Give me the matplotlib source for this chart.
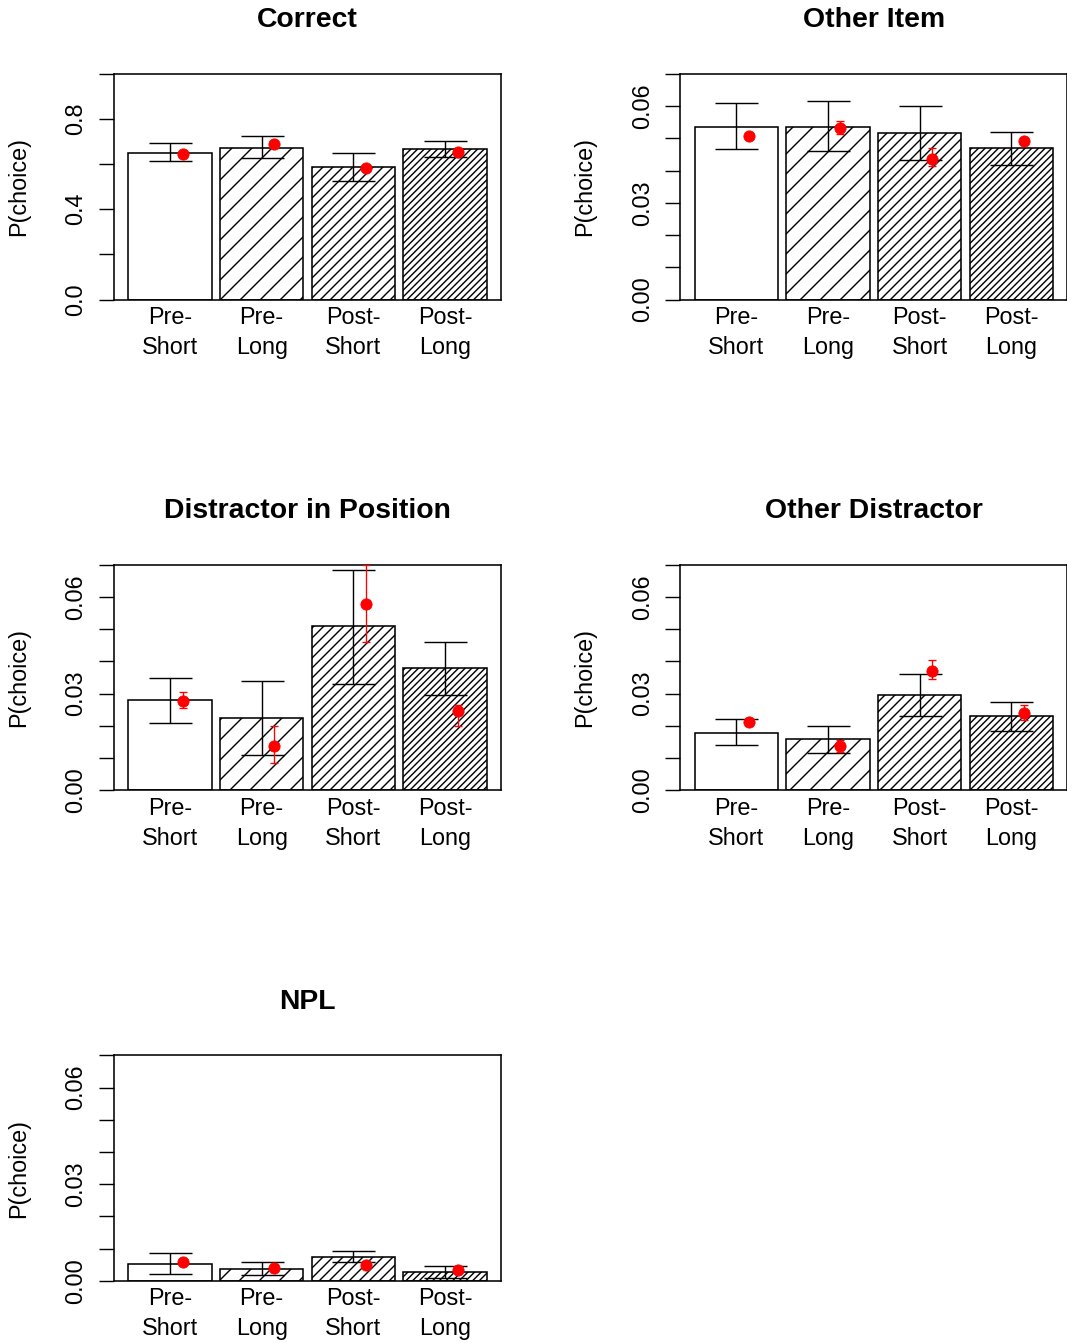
import numpy as np
import matplotlib
matplotlib.use('Agg')
from matplotlib import pyplot as plt

# figure is drawn at 60 dpi so the hatch densities come out like R's density lines
DPI = 60
W, H = 1067, 1343
plt.rcParams['font.family'] = ['Liberation Sans', 'DejaVu Sans']
plt.rcParams['hatch.linewidth'] = 1.7

conditions = ['Pre-\nShort', 'Pre-\nLong', 'Post-\nShort', 'Post-\nLong']
hatches = ['', '/', '//', '///']

titles = ['Correct', 'Other Item', 'Distractor in Position', 'Other Distractor', 'NPL']

# observed proportions (bars) and their error bar ends
bar_vals = [
    [0.651, 0.674, 0.589, 0.667],
    [0.0535, 0.0535, 0.0516, 0.0471],
    [0.0280, 0.0224, 0.0510, 0.0381],
    [0.0179, 0.0159, 0.0295, 0.0231],
    [0.0052, 0.0037, 0.0073, 0.0028],
]
bar_lo = [
    [0.616, 0.629, 0.524, 0.631],
    [0.0466, 0.0462, 0.0432, 0.0416],
    [0.0210, 0.0110, 0.0330, 0.0295],
    [0.0140, 0.0115, 0.0231, 0.0185],
    [0.0022, 0.0017, 0.0058, 0.0008],
]
bar_hi = [
    [0.696, 0.723, 0.651, 0.703],
    [0.0610, 0.0615, 0.0601, 0.0521],
    [0.0350, 0.0340, 0.0685, 0.0460],
    [0.0220, 0.0199, 0.0360, 0.0274],
    [0.0087, 0.0058, 0.0091, 0.0047],
]

# model predictions (red points) and their intervals
pred_vals = [
    [0.646, 0.690, 0.585, 0.656],
    [0.0507, 0.0533, 0.0437, 0.0493],
    [0.0277, 0.0136, 0.0577, 0.0245],
    [0.0211, 0.0137, 0.0370, 0.0241],
    [0.0059, 0.0039, 0.0049, 0.0035],
]
pred_lo = [
    [0.643, 0.687, 0.582, 0.653],
    [0.0504, 0.0515, 0.0414, 0.0490],
    [0.0255, 0.0085, 0.0460, 0.0199],
    [0.0205, 0.0120, 0.0345, 0.0219],
    [0.0057, 0.0037, 0.0047, 0.0033],
]
pred_hi = [
    [0.649, 0.693, 0.588, 0.659],
    [0.0510, 0.0555, 0.0471, 0.0496],
    [0.0305, 0.0199, 0.0699, 0.0264],
    [0.0217, 0.0156, 0.0406, 0.0264],
    [0.0061, 0.0041, 0.0051, 0.0037],
]

ylims = [1.0, 0.07, 0.07, 0.07, 0.07]
yticks = [np.arange(0, 1.01, 0.2), np.arange(0, 0.0701, 0.01)]
ylabels_big = ['0.0', '', '0.4', '', '0.8', '']
ylabels_small = ['0.00', '', '', '0.03', '', '', '0.06', '']

fig = plt.figure(figsize=(W / DPI, H / DPI), dpi=DPI)

lefts = [114, 680.3]
tops = [74, 564.8, 1055.3]
aw, ah = 387, 225.5

x = 0.6 + 1.1 * np.arange(4)

for k in range(5):
    r, c = divmod(k, 2)
    ax = fig.add_axes([lefts[c] / W, 1 - (tops[r] + ah) / H, aw / W, ah / H])
    ax.bar(x, bar_vals[k], width=1.0, color='white', edgecolor='black',
           linewidth=1.9, zorder=1)
    for i, bar in enumerate(ax.patches):
        bar.set_hatch(hatches[i])
    v = np.array(bar_vals[k])
    ax.errorbar(x, v, yerr=[v - np.array(bar_lo[k]), np.array(bar_hi[k]) - v],
                fmt='none', ecolor='black', elinewidth=1.7, capsize=25.8,
                capthick=1.7, zorder=3)
    p = np.array(pred_vals[k])
    ax.errorbar(x + 0.15, p, yerr=[p - np.array(pred_lo[k]), np.array(pred_hi[k]) - p],
                fmt='o', color='red', ms=13.5, elinewidth=1.6, capsize=4.8,
                capthick=1.6, zorder=4)

    ax.set_xlim(-0.072, 4.572)
    ax.set_ylim(0, ylims[k])
    if k == 0:
        ax.set_yticks(yticks[0], ylabels_big)
    else:
        ax.set_yticks(yticks[1], ylabels_small)
    for lab in ax.get_yticklabels():
        lab.set_rotation(90)
        lab.set_va('center')
    ax.tick_params(axis='y', length=18, width=1.7, pad=14, labelsize=28)
    ax.set_xticks(x, conditions)
    ax.tick_params(axis='x', length=0, pad=8, labelsize=28)
    for lab in ax.get_xticklabels():
        lab.set_linespacing(1.38)
    for sp in ax.spines.values():
        sp.set_linewidth(1.9)
    ax.set_ylabel('P(choice)', fontsize=28)
    ax.yaxis.set_label_coords(-0.217, 0.5)
    ax.set_title(titles[k], fontsize=34, fontweight='bold', pad=56)

fig.savefig('out.png', dpi=DPI)
